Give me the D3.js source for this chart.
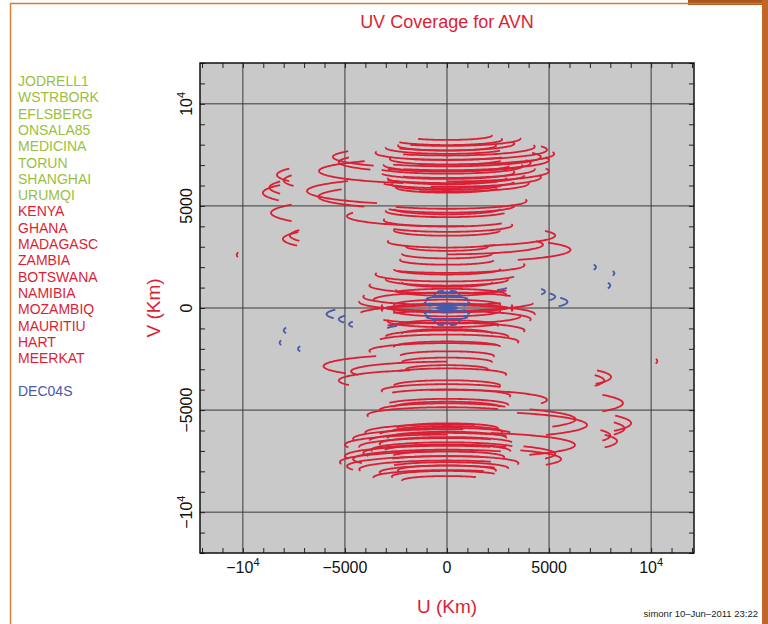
<!DOCTYPE html>
<html>
<head>
<meta charset="utf-8">
<script src="https://cdn.jsdelivr.net/npm/d3@7"></script>
<style>
body{margin:0;background:#fff;}
svg{display:block;}
</style>
</head>
<body>
<div id="chart"></div>
<script>
// legend
const greenStations = ["JODRELL1","WSTRBORK","EFLSBERG","ONSALA85","MEDICINA","TORUN","SHANGHAI","URUMQI"];
const redStations = ["KENYA","GHANA","MADAGASC","ZAMBIA","BOTSWANA","NAMIBIA","MOZAMBIQ","MAURITIU","HART","MEERKAT"];
const sourceName = "DEC04S";
const flatten = -0.1; // v/u axis ratio of the track ellipses

// uv tracks: [v centre (km), u semi-axis (km), start hour angle (deg), end hour angle (deg)]
// each one is also drawn with its conjugate (-u,-v)
const redTracks = [
  // far left hooks
  [5640, 9020, -115, -66],
  [5900, 8700, -110, -70],
  [6520, 8330, -112, -68],
  [6250, 8000, -108, -70],
  [4660, 8620, -118, -62],
  [3380, 8040, -115, -66],
  [3550, 7700, -110, -70],
  [2600, 10300, -97, -84],
  // hooks with long arms
  [5730, 6860, -135, -30],
  [5450, 6300, -125, -40],
  [6710, 6270, -140, -20],
  [7400, 5590, -120, -40],
  [7150, 5300, -115, -45],
  [4500, 4900, -110, 10],
  // upper cluster
  [8450, 2200, -40, 95],
  [8300, 3600, -30, 95],
  [8250, 2700, -60, 100],
  [8050, 3300, -45, 105],
  [7950, 2400, -100, 100],
  [7900, 4300, -30, 100],
  [7850, 3000, -95, 60],
  [7750, 4900, -20, 110],
  [7600, 3500, -100, 50],
  [7550, 5250, -15, 100],
  [7400, 4600, -35, 115],
  [7300, 2800, -100, 70],
  [7250, 5000, -25, 105],
  [7100, 4100, -45, 110],
  [7000, 3100, -95, 80],
  [6950, 3700, -60, 100],
  [6800, 4300, -30, 95],
  [6700, 5000, 0, 105],
  [6650, 3300, -75, 100],
  [6500, 3800, -50, 90],
  [6400, 4600, -10, 100],
  [6350, 2900, -95, 95],
  [6200, 3300, -70, 85],
  [6100, 4000, -20, 95],
  [6050, 2700, -100, 90],
  [5900, 2500, -95, 80],
  // middle band
  [5250, 3900, -40, 100],
  [5000, 3300, -60, 95],
  [4850, 2600, -90, 90],
  [4750, 3000, -95, 70],
  [4300, 3100, -100, 60],
  [4050, 3200, -55, 100],
  [3800, 2600, -95, 90],
  [3550, 5300, 20, 115],
  [3250, 2900, -100, 55],
  [3100, 4700, 0, 112],
  [3000, 2000, -100, 100],
  [2850, 6050, 35, 125],
  [2650, 2200, -95, 95],
  [2350, 2300, -100, 85],
  [2100, 3800, -40, 100],
  [1900, 2600, -90, 95],
  [1650, 3500, -100, 70],
  [1400, 3000, -95, 90],
  [1250, 2200, -95, 95],
  [1100, 3800, -100, 50],
  [850, 2500, -100, 100],
  // centre
  [550, 4100, -100, 40],
  [300, 4300, -95, 80],
  [100, 3200, -100, 100],
  [-150, 2600, -95, 95],
  [-400, 3600, -60, 100],
  [-650, 2900, -100, 60]
];

const blueTracks = [
  [600, 700, -130, 130],
  [250, 1100, -115, 115],
  [-100, 850, -100, 100],
  [-450, 1000, -125, 125],
  [800, 450, -160, 160],
  [0, 500, -180, 180],
  [-300, 5900, -112, -70],
  [-550, 5300, -110, -72],
  [-800, 4800, -106, -74],
  [1050, 3000, 55, 78],
  [2000, 7300, 80, 100],
  [1700, 8200, 82, 98],
  [1100, 8000, 80, 100]
];

const uTicks = [-10000, -5000, 0, 5000, 10000];
const uTickLabels = ["\u221210^4", "\u22125000", "0", "5000", "10^4"];
const vTicks = [-10000, -5000, 0, 5000, 10000];
const vTickLabels = ["\u221210^4", "\u22125000", "0", "5000", "10^4"];

const W = 768, H = 624;
const plot = {left: 200, right: 694, top: 63, bottom: 553};
const RED = "#dc1e34", GREEN = "#9cc03c", BLUE = "#4a58a8";
const FONT = "Liberation Sans, Arial, sans-serif";

const svg = d3.select("#chart").append("svg")
  .attr("width", W).attr("height", H)
  .attr("font-family", FONT);

// slide frame
svg.append("rect").attr("x", 688).attr("y", 0).attr("width", 80).attr("height", 5).attr("fill", "#a8561e");
svg.append("line").attr("x1", 10).attr("x2", 765).attr("y1", 3.5).attr("y2", 3.5).attr("stroke", "#d9772e").attr("stroke-width", 1.5);
svg.append("line").attr("x1", 10.5).attr("x2", 10.5).attr("y1", 3).attr("y2", H).attr("stroke", "#e0813a").attr("stroke-width", 1.5);
svg.append("rect").attr("x", 762).attr("y", 0).attr("width", 6).attr("height", H).attr("fill", "#c0662a");

const x = d3.scaleLinear().domain([-12100, 12100]).range([plot.left, plot.right]);
const y = d3.scaleLinear().domain([-12000, 12000]).range([plot.bottom, plot.top]);

svg.append("rect")
  .attr("x", plot.left).attr("y", plot.top)
  .attr("width", plot.right - plot.left).attr("height", plot.bottom - plot.top)
  .attr("fill", "#c8c9c8");

svg.append("clipPath").attr("id", "clip").append("rect")
  .attr("x", plot.left).attr("y", plot.top)
  .attr("width", plot.right - plot.left).attr("height", plot.bottom - plot.top);

// grid
const grid = svg.append("g").attr("stroke", "#3a3a3a").attr("stroke-width", 1);
grid.selectAll(".gx").data(uTicks).join("line")
  .attr("x1", d => x(d)).attr("x2", d => x(d))
  .attr("y1", plot.top).attr("y2", plot.bottom);
grid.selectAll(".gy").data(vTicks).join("line")
  .attr("y1", d => y(d)).attr("y2", d => y(d))
  .attr("x1", plot.left).attr("x2", plot.right);

// minor ticks on all sides
const minor = d3.range(-12000, 12001, 1000);
function tickAxis(axis, tx, ty) {
  const g = svg.append("g").attr("transform", `translate(${tx},${ty})`)
    .call(axis.tickValues(minor).tickSize(-5).tickFormat(""));
  g.select(".domain").remove();
  g.selectAll("line").attr("stroke", "#222");
}
tickAxis(d3.axisBottom(x), 0, plot.bottom);
tickAxis(d3.axisTop(x), 0, plot.top);
tickAxis(d3.axisLeft(y), plot.left, 0);
tickAxis(d3.axisRight(y), plot.right, 0);

// tracks
function trackPoints(t, sign) {
  const [v0, a, h1, h2] = t;
  const n = Math.max(10, Math.ceil(Math.abs(h2 - h1) / 2));
  return d3.range(n + 1).map(i => {
    const h = (h1 + (h2 - h1) * i / n) * Math.PI / 180;
    const u = a * Math.sin(h), v = v0 + a * flatten * Math.cos(h);
    return [sign * u, sign * v];
  });
}
const line = d3.line().x(d => x(d[0])).y(d => y(d[1]));
const tracks = svg.append("g").attr("clip-path", "url(#clip)").attr("fill", "none")
  .attr("stroke-width", 1.8).attr("stroke-linejoin", "round");

function drawTracks(list, color) {
  const all = [];
  list.forEach(t => { all.push(trackPoints(t, 1)); all.push(trackPoints(t, -1)); });
  tracks.append("g").attr("stroke", color)
    .selectAll("path").data(all).join("path").attr("d", line);
}
drawTracks(redTracks, RED);
drawTracks(blueTracks, BLUE);

// frame
svg.append("rect")
  .attr("x", plot.left).attr("y", plot.top)
  .attr("width", plot.right - plot.left).attr("height", plot.bottom - plot.top)
  .attr("fill", "none").attr("stroke", "#111").attr("stroke-width", 1.5);

// tick labels
function putLabel(sel, label) {
  const parts = label.split("^");
  sel.append("tspan").text(parts[0]);
  if (parts[1]) sel.append("tspan").attr("font-size", 11).attr("dy", -7).text(parts[1]);
}
uTicks.forEach((d, i) => {
  const t = svg.append("text").attr("x", x(d)).attr("y", 573)
    .attr("text-anchor", "middle").attr("font-size", 16).attr("fill", "#111");
  putLabel(t, uTickLabels[i]);
});
vTicks.forEach((d, i) => {
  const t = svg.append("text").attr("transform", `translate(192,${y(d)}) rotate(-90)`)
    .attr("text-anchor", "middle").attr("font-size", 16).attr("fill", "#111");
  putLabel(t, vTickLabels[i]);
});

// titles
svg.append("text").attr("x", 447).attr("y", 28).attr("text-anchor", "middle")
  .attr("font-size", 18).attr("fill", RED).text("UV Coverage for AVN");
svg.append("text").attr("x", 447).attr("y", 613).attr("text-anchor", "middle")
  .attr("font-size", 19).attr("fill", RED).text("U (Km)");
svg.append("text").attr("transform", `translate(160,${y(0)}) rotate(-90)`).attr("text-anchor", "middle")
  .attr("font-size", 19).attr("fill", RED).text("V (Km)");
svg.append("text").attr("x", 758).attr("y", 617).attr("text-anchor", "end")
  .attr("font-size", 9.5).attr("fill", "#222").text("simonr 10\u2013Jun\u20132011 23:22");

// legend
const legend = greenStations.map(s => ({name: s, color: GREEN}))
  .concat(redStations.map(s => ({name: s, color: RED})));
legend.push({name: "", color: RED});
legend.push({name: sourceName, color: BLUE});
svg.append("g").selectAll("text").data(legend).join("text")
  .attr("x", 18).attr("y", (d, i) => 86 + i * 16.3)
  .attr("font-size", 14).attr("fill", d => d.color)
  .text(d => d.name);
</script>
</body>
</html>
